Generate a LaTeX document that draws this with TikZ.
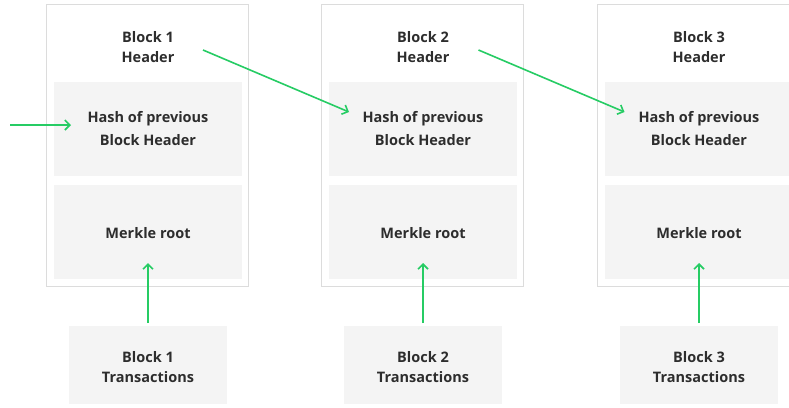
\documentclass[tikz,border=0pt]{standalone}
\usepackage{fontspec}
\setmainfont{Open Sans}
\usetikzlibrary{arrows.meta}
\definecolor{grn}{RGB}{38,204,100}
\definecolor{boxgray}{RGB}{244,244,244}
\definecolor{bordergray}{RGB}{220,220,220}
\definecolor{txt}{RGB}{45,45,45}
\begin{document}
\begin{tikzpicture}[x=1pt,y=-1pt,
  outerbox/.style={draw=bordergray,line width=1.2pt,fill=white,minimum width=202pt,minimum height=282pt,inner sep=0pt},
  graybox/.style={fill=boxgray,minimum width=188pt,minimum height=94pt,inner sep=0pt},
  txbox/.style={fill=boxgray,minimum width=158pt,minimum height=78pt,inner sep=0pt},
  lbl/.style={font=\bfseries\fontsize{14.5}{20}\selectfont,text=txt,align=center},
  lblh/.style={font=\bfseries\fontsize{14.5}{23.5}\selectfont,text=txt,align=center},
  link/.style={draw=grn,line width=1.6pt,-{Straight Barb[length=5pt,width=10pt,line width=1.6pt]}}
]
\useasboundingbox (0,0) rectangle (789,407);
\clip (0,0) rectangle (789,407);
\fill[white] (0,0) rectangle (789,407);
\foreach \i/\dx in {1/0,2/275,3/551} {
  \node[outerbox] (blk\i) at (147.7+\dx,145.5) {};
  \node[graybox] (hash\i) at (148+\dx,129) {};
  \node[graybox] (merk\i) at (148+\dx,232) {};
  \node[txbox] (tx\i) at (148+\dx,365) {};
  \node[lbl] (hdr\i) at (148+\dx,47.5) {Block \i\\Header};
  \node[lblh] (hasht\i) at (148+\dx,128.5) {Hash of previous\\Block Header};
  \node[lbl] (merkt\i) at (148+\dx,233) {Merkle root};
  \node[lbl] (txt\i) at (148+\dx,367) {Block \i\\Transactions};
  \coordinate (up\i) at (148+\dx,323);
  \coordinate (upend\i) at (148+\dx,263);
  \draw[link] (up\i) -- (upend\i);
}
\coordinate (in0) at (10,125);
\coordinate (inend) at (71,125);
\draw[link] (in0) -- (inend);
\coordinate (d1s) at (203,50);
\coordinate (d1e) at (349,112);
\coordinate (d2s) at (478.5,50);
\coordinate (d2e) at (624.5,112);
\draw[link] (d1s) -- (d1e);
\draw[link] (d2s) -- (d2e);
\end{tikzpicture}
\end{document}
